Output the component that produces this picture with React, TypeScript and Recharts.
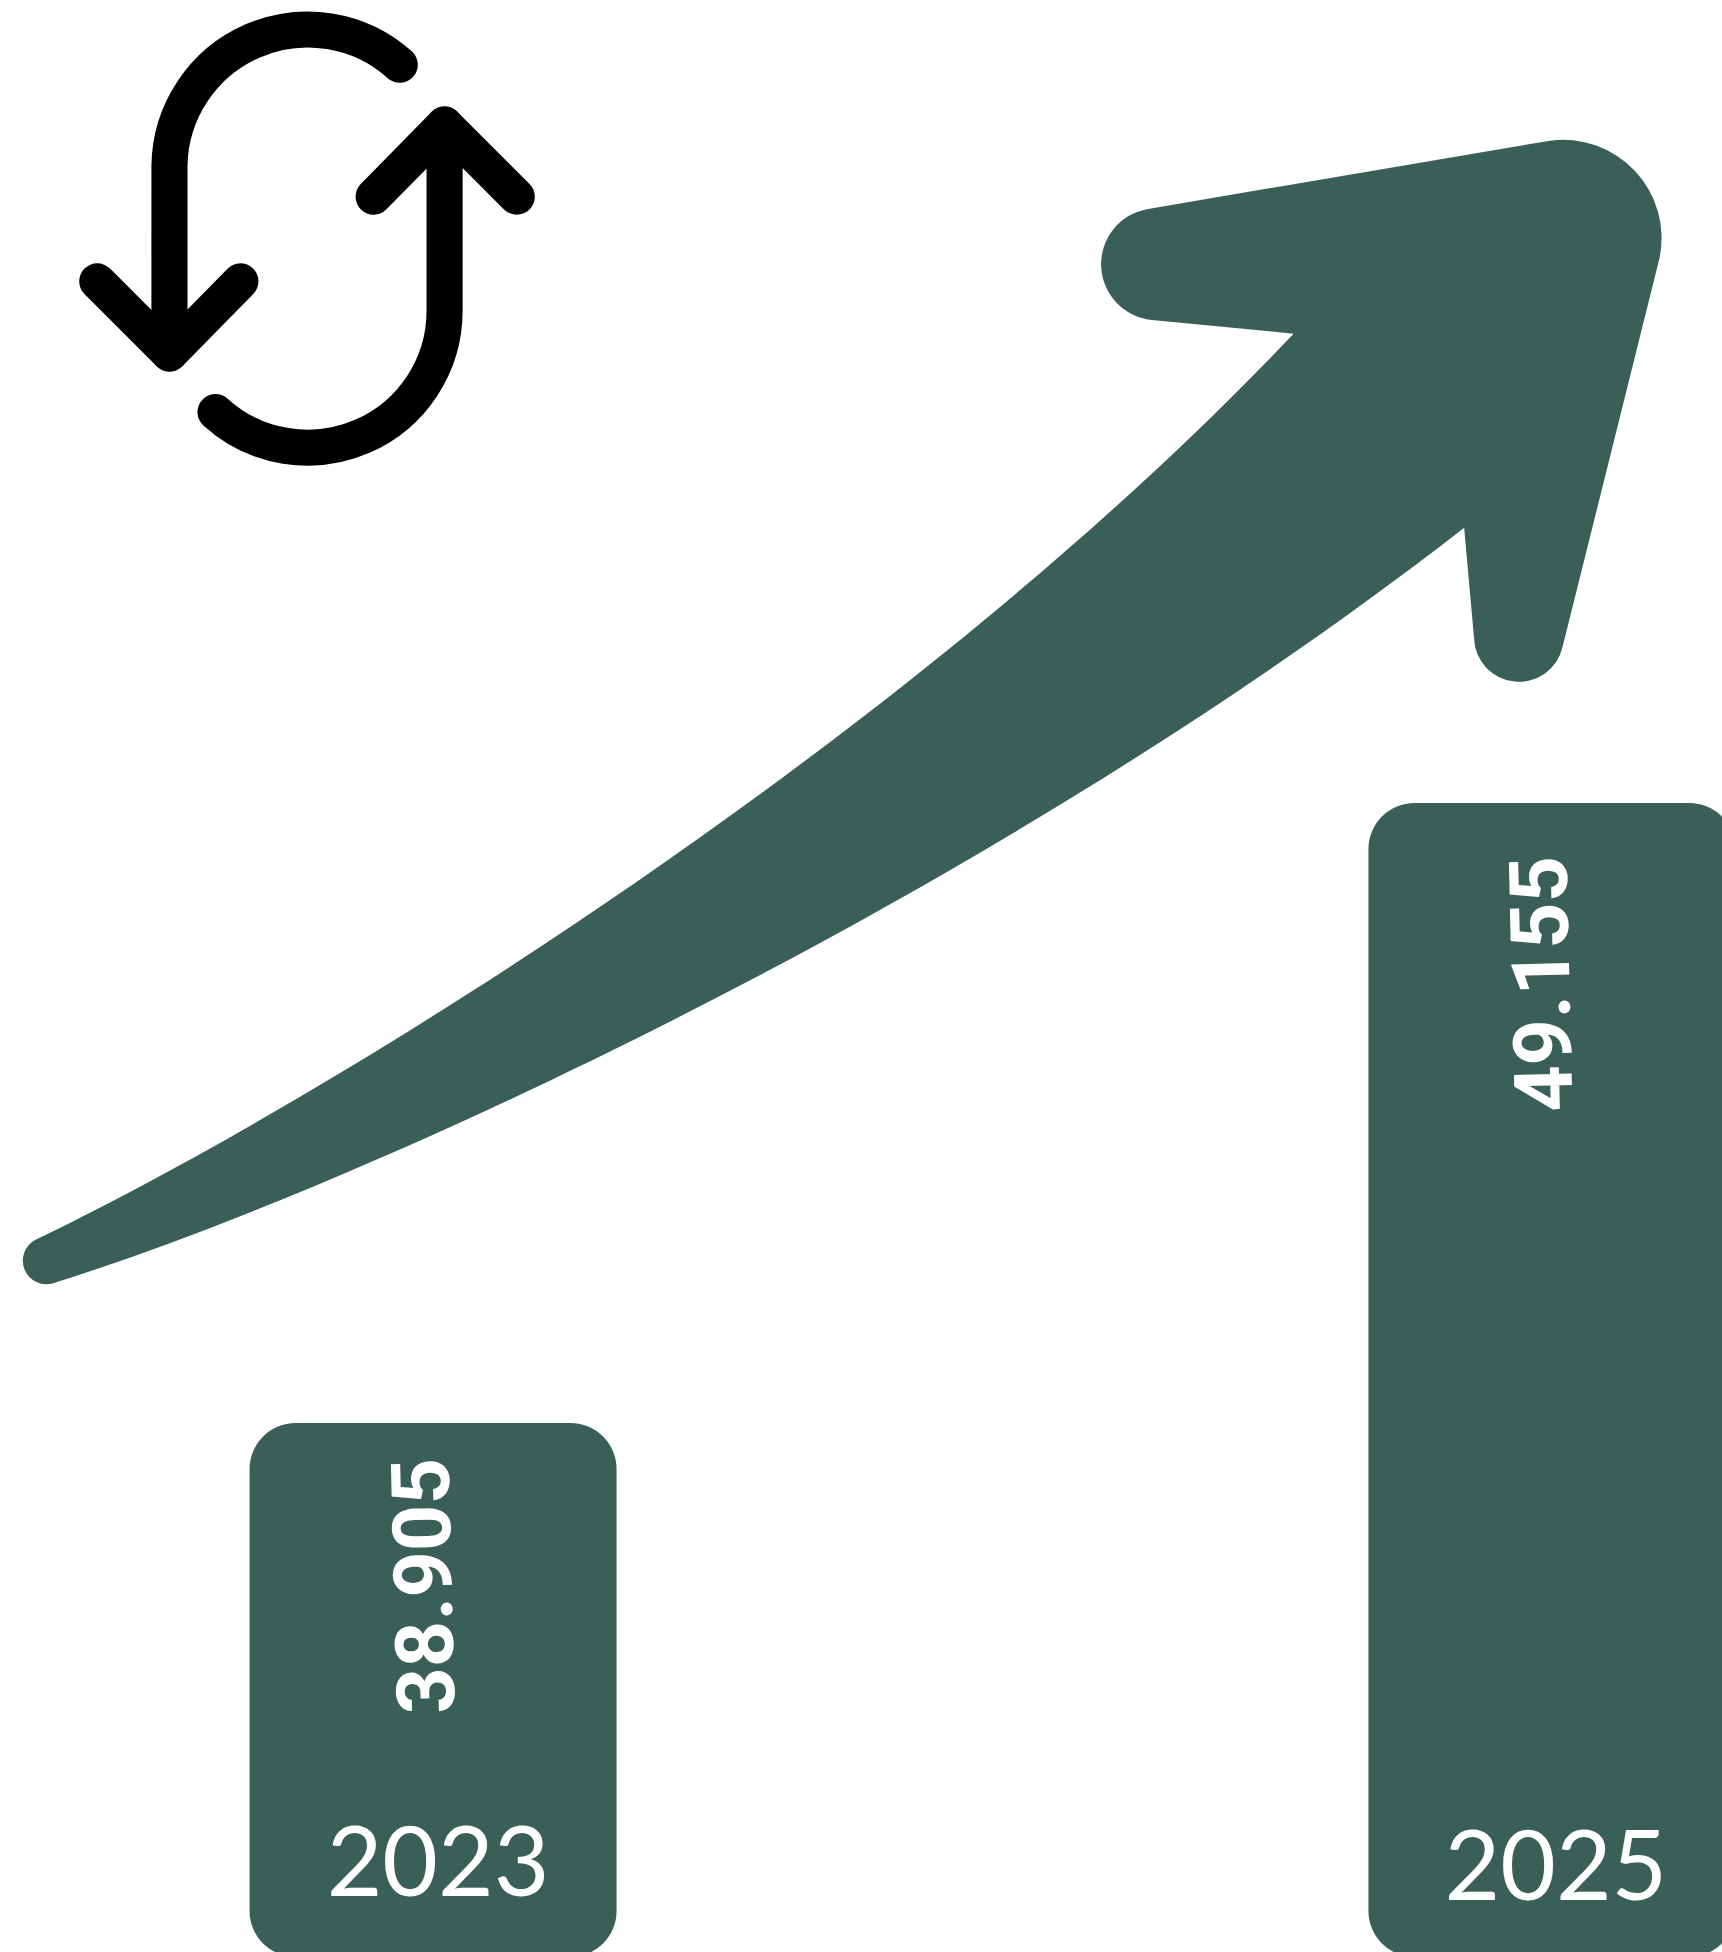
import { BarChart, Bar, XAxis, YAxis, LabelList } from 'recharts';

const years = [2023, 2025];
const totals = [38905, 49155];

const chartData = years.map((year, i) => ({ year, total: totals[i] }));

const GREEN = '#3a5f57';

// axis limits worked out so both bars land where they do in the picture
const xDomain = [2022.226, 2025.372];
const yDomain = [30077, 62431];

// hand nudges for the labels, per year
const valueNudge = [
  { dx: -9, dy: 163 },
  { dx: -10, dy: 181 },
];
const yearNudge: Record<number, { dx: number; y: number }> = {
  2023: { dx: 5, y: 1896 },
  2025: { dx: 4, y: 1900 },
};

const formatTotal = (v: number) => String(v).replace(/\B(?=(\d{3})+$)/g, '.');

const ValueLabel = ({ x, y, width, value, index }: any) => {
  const cx = x + width / 2 + valueNudge[index].dx;
  const cy = y + valueNudge[index].dy;
  return (
    <text
      x={cx}
      y={cy}
      fill="#fff"
      fontFamily="Roboto"
      fontWeight={700}
      fontSize={81}
      textAnchor="middle"
      dominantBaseline="central"
      transform={`rotate(-91.4 ${cx} ${cy})`}
    >
      {formatTotal(value)}
    </text>
  );
};

const YearTick = ({ x, payload }: any) => {
  const nudge = yearNudge[payload.value];
  return (
    <text
      x={x + nudge.dx}
      y={nudge.y}
      fill="#fff"
      fontFamily="Lato"
      fontWeight={400}
      fontSize={96}
      textAnchor="middle"
    >
      {payload.value}
    </text>
  );
};

// rising arrow and the swap icon are plain decoration, drawn in the picture's own units
const Decoration = () => (
  <svg
    viewBox="0 0 1383 1568"
    width={1722}
    height={1952}
    style={{ position: 'absolute', left: 0, top: 0 }}
  >
    <path
      fill={GREEN}
      d="M28 996 C250 890 725 600 1039 268 L925 257 A45 45 0 0 1 921 168 L1245 113 A79 79 0 0 1 1333 207 L1255 520 A36 36 0 0 1 1184 513 L1176 424 C800 717 300 950 42 1031 A19 19 0 0 1 28 996 Z"
    />
    <g fill="none" stroke="#000" strokeWidth={29} strokeLinecap="round" strokeLinejoin="round">
      <path d="M321 52 A111 111 0 0 0 136 133 L136 284" />
      <path d="M78 226 L136 284 L193 226" />
      <path d="M173 331 A110 110 0 0 0 357 250 L357 100" />
      <path d="M300 158 L357 100 L415 158" />
    </g>
  </svg>
);

export default function App() {
  return (
    <div
      style={{
        position: 'absolute',
        left: 0,
        top: 0,
        width: 1722,
        height: 1952,
        overflow: 'hidden',
        background: '#fff',
      }}
    >
      <BarChart
        width={1760}
        height={1958}
        data={chartData}
        margin={{ top: 0, right: 0, bottom: 0, left: 0 }}
      >
        <XAxis
          dataKey="year"
          type="number"
          domain={xDomain}
          ticks={years}
          height={1}
          axisLine={false}
          tickLine={false}
          tick={<YearTick />}
        />
        <YAxis hide domain={yDomain} />
        <Bar dataKey="total" fill={GREEN} barSize={367} radius={46} isAnimationActive={false}>
          <LabelList dataKey="total" content={<ValueLabel />} />
        </Bar>
      </BarChart>
      <Decoration />
    </div>
  );
}
